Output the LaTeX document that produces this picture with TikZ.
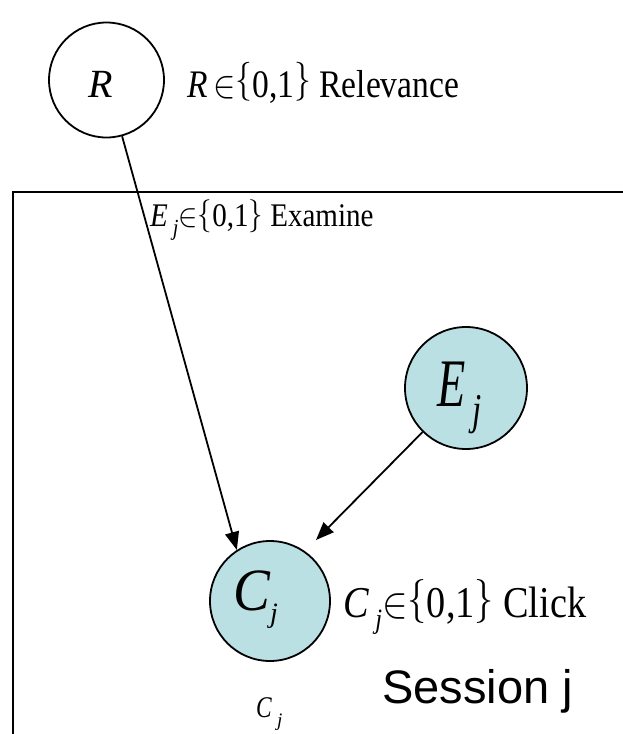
\RequirePackage{fix-cm}
\documentclass[tikz,border=0pt]{standalone}
\usepackage{fontspec}
\usepackage{graphicx}
\setmainfont{Liberation Serif}
\newfontfamily\arialfont{Liberation Sans}
\usetikzlibrary{arrows.meta}
\definecolor{nodefill}{RGB}{187,224,227}
\begin{document}
\begin{tikzpicture}[x=1pt,y=-1pt,
  var/.style={circle,draw,line width=1.8pt,inner sep=0pt},
  lbl/.style={anchor=base west,inner sep=0pt},
  arr/.style={-{Triangle[length=18pt,width=14pt]},line width=1.8pt}]
\useasboundingbox (0,0) rectangle (622,734);
% session plate
\draw[line width=2.6pt] (13,800) -- (13,192) -- (700,192);
% variables
\node[var,minimum size=115pt] (R) at (106.5,80) {};
\node[var,fill=nodefill,minimum size=122pt] (E) at (466,388) {};
\node[var,fill=nodefill,minimum size=120pt] (C) at (270,601) {};
% texts inside circles
\node[lbl,font=\fontsize{40}{42}\selectfont\itshape] (Rt) at (88,97) {R};
\node[lbl,font=\fontsize{68}{70}\selectfont\itshape,xscale=0.68] (Et) at (437,406) {E};
\node[lbl,font=\fontsize{44}{46}\selectfont\itshape,xscale=0.75] (Ej) at (472,424) {j};
\node[lbl,font=\fontsize{60}{62}\selectfont\itshape,xscale=0.92] (Ct) at (233,610) {C};
\node[lbl,font=\fontsize{28}{30}\selectfont\itshape] (Cj) at (270,622) {j};
% labels
\node[lbl,font=\fontsize{39}{41}\selectfont,xscale=0.86] (Rlab) at (187,97)
  {\textit{R}\,$\in$\raisebox{6pt}{$\{$}0,1\raisebox{6pt}{$\}$} Relevance};
\node[lbl,font=\fontsize{33}{35}\selectfont,xscale=0.88] (Elab) at (150,226)
  {\textit{E}\,\raisebox{-9pt}{\fontsize{23}{25}\selectfont\textit{j}}$\in$\raisebox{2pt}{$\bigl\{$}0,1\raisebox{2pt}{$\bigr\}$} Examine};
\node[lbl,font=\fontsize{44}{46}\selectfont,xscale=0.87] (Clab) at (343,617)
  {\textit{C}\,\raisebox{-11pt}{\fontsize{28}{30}\selectfont\textit{j}}$\in$\raisebox{5pt}{$\{$}0,1\raisebox{5pt}{$\}$} Click};
\node[lbl,font=\arialfont\fontsize{47}{49}\selectfont] (sess) at (382,703) {Session j};
\node[lbl,font=\fontsize{30}{32}\selectfont\itshape,xscale=0.78] (Csm) at (256,717) {C};
\node[lbl,font=\fontsize{19}{21}\selectfont\itshape] (Csmj) at (277,726) {j};
% arrows
\coordinate (tipE) at (316,540);
\draw[arr] (R) -- (C.123);
\draw[arr] (E) -- (tipE);
\end{tikzpicture}
\end{document}
